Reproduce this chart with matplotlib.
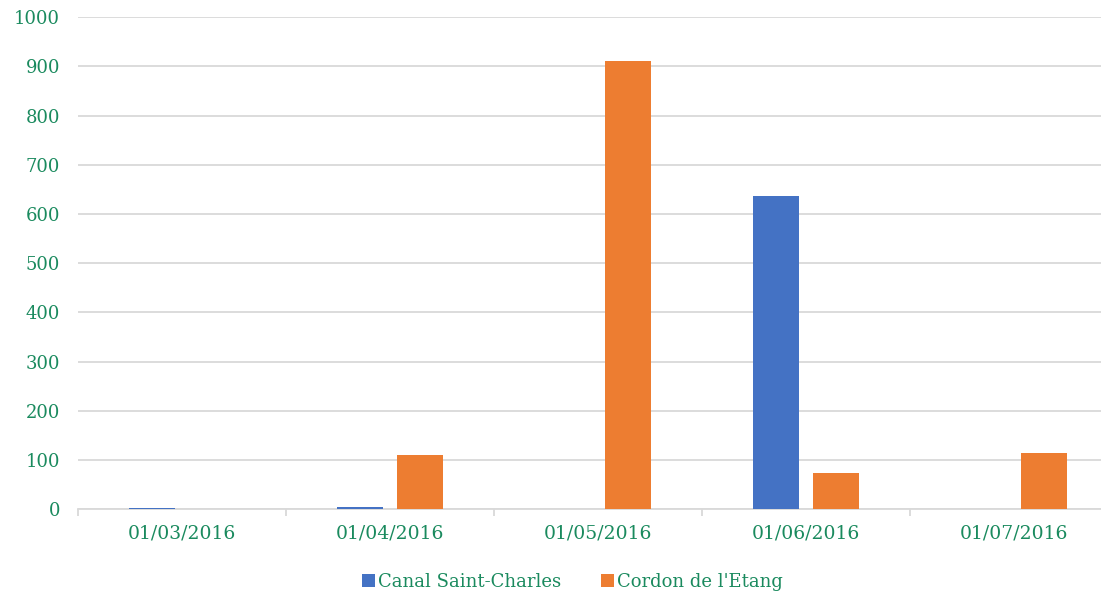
import matplotlib.pyplot as plt
import numpy as np

dates = ["01/03/2016", "01/04/2016", "01/05/2016", "01/06/2016", "01/07/2016"]
canal = [3, 5, 0, 636, 0]
cordon = [0, 110, 910, 74, 113]

text_color = "#1a8a5e"
blue = "#4472c4"
orange = "#ed7d31"

plt.rcParams['font.family'] = ['DejaVu Serif']

fig = plt.figure(figsize=(11.01, 5.94), dpi=100)
# the plot area runs past the right edge of the picture, as in the reference
ax = fig.add_axes([0.0708, 0.143, 0.9446, 0.828])

x = np.arange(len(dates))
w = 0.222
ax.bar(x - 0.145, canal, w, color=blue, label="Canal Saint-Charles", zorder=3)
ax.bar(x + 0.145, cordon, w, color=orange, label="Cordon de l'Etang", zorder=3)

ax.set_xlim(-0.5, len(dates) - 0.5)
ax.set_ylim(0, 1000)
ax.set_yticks(range(0, 1001, 100))
ax.yaxis.grid(True, color="#d9d9d9", linewidth=1.3, zorder=0)
ax.set_xticks(x)
ax.set_xticklabels(dates)
ax.set_xticks(np.arange(-0.5, len(dates)), minor=True)

for s in ["top", "right", "left"]:
    ax.spines[s].set_visible(False)
ax.spines["bottom"].set_color("#d9d9d9")
ax.spines["bottom"].set_linewidth(1.3)

ax.tick_params(axis="y", length=0, pad=13, labelsize=13, labelcolor=text_color)
ax.tick_params(axis="x", which="major", length=0, pad=11, labelsize=13.5, labelcolor=text_color)
ax.tick_params(axis="x", which="minor", length=5, color="#d9d9d9", width=1.3)

fig.legend(loc="center", bbox_to_anchor=(0.52, 0.02), ncol=2, frameon=False,
           fontsize=13, labelcolor=text_color, handlelength=0.7, handleheight=0.7,
           handletextpad=0.2, columnspacing=2.2)

plt.savefig("out.png")
